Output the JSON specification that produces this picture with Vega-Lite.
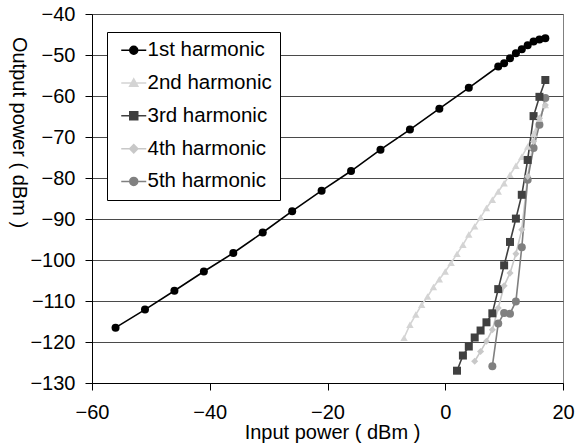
{
  "$schema": "https://vega.github.io/schema/vega-lite/v6.json",
  "width": 471,
  "height": 369,
  "autosize": {"type": "none"},
  "padding": {"left": 92, "top": 14, "right": 13, "bottom": 65},
  "background": "white",
  "config": {
    "font": "Liberation Sans",
    "view": {"stroke": "#808080", "strokeWidth": 1},
    "axis": {"labelFont": "Liberation Sans", "titleFont": "Liberation Sans", "labelColor": "#000", "titleColor": "#000", "titleFontWeight": "normal", "domainColor": "#000", "tickColor": "#000", "labelFlush": false, "labelOverlap": false}
  },
  "data": {"values": [
    {"h": "1st harmonic", "x": -56, "y": -116.5},
    {"h": "1st harmonic", "x": -51, "y": -112.1},
    {"h": "1st harmonic", "x": -46, "y": -107.5},
    {"h": "1st harmonic", "x": -41, "y": -102.8},
    {"h": "1st harmonic", "x": -36, "y": -98.3},
    {"h": "1st harmonic", "x": -31, "y": -93.3},
    {"h": "1st harmonic", "x": -26, "y": -88.1},
    {"h": "1st harmonic", "x": -21, "y": -83.1},
    {"h": "1st harmonic", "x": -16, "y": -78.3},
    {"h": "1st harmonic", "x": -11, "y": -73.1},
    {"h": "1st harmonic", "x": -6, "y": -68.2},
    {"h": "1st harmonic", "x": -1, "y": -63.1},
    {"h": "1st harmonic", "x": 4, "y": -58.0},
    {"h": "1st harmonic", "x": 9, "y": -52.8},
    {"h": "1st harmonic", "x": 10, "y": -52.0},
    {"h": "1st harmonic", "x": 11, "y": -50.8},
    {"h": "1st harmonic", "x": 12, "y": -49.6},
    {"h": "1st harmonic", "x": 13, "y": -48.6},
    {"h": "1st harmonic", "x": 14, "y": -47.6},
    {"h": "1st harmonic", "x": 15, "y": -46.7},
    {"h": "1st harmonic", "x": 16, "y": -46.2},
    {"h": "1st harmonic", "x": 17, "y": -45.9},
    {"h": "2nd harmonic", "x": -7, "y": -119.0},
    {"h": "2nd harmonic", "x": -6, "y": -115.8},
    {"h": "2nd harmonic", "x": -5, "y": -113.3},
    {"h": "2nd harmonic", "x": -4, "y": -110.9},
    {"h": "2nd harmonic", "x": -3, "y": -108.9},
    {"h": "2nd harmonic", "x": -2, "y": -106.6},
    {"h": "2nd harmonic", "x": -1, "y": -104.7},
    {"h": "2nd harmonic", "x": 0, "y": -102.8},
    {"h": "2nd harmonic", "x": 1, "y": -100.7},
    {"h": "2nd harmonic", "x": 2, "y": -98.5},
    {"h": "2nd harmonic", "x": 3, "y": -96.3},
    {"h": "2nd harmonic", "x": 4, "y": -93.8},
    {"h": "2nd harmonic", "x": 5, "y": -91.8},
    {"h": "2nd harmonic", "x": 6, "y": -89.6},
    {"h": "2nd harmonic", "x": 7, "y": -87.3},
    {"h": "2nd harmonic", "x": 8, "y": -85.3},
    {"h": "2nd harmonic", "x": 9, "y": -83.3},
    {"h": "2nd harmonic", "x": 10, "y": -81.3},
    {"h": "2nd harmonic", "x": 11, "y": -79.2},
    {"h": "2nd harmonic", "x": 12, "y": -77.0},
    {"h": "2nd harmonic", "x": 13, "y": -74.8},
    {"h": "2nd harmonic", "x": 14, "y": -72.3},
    {"h": "2nd harmonic", "x": 15, "y": -69.2},
    {"h": "2nd harmonic", "x": 16, "y": -65.5},
    {"h": "2nd harmonic", "x": 17, "y": -62.2},
    {"h": "3rd harmonic", "x": 2, "y": -127.0},
    {"h": "3rd harmonic", "x": 3, "y": -123.3},
    {"h": "3rd harmonic", "x": 4, "y": -121.1},
    {"h": "3rd harmonic", "x": 5, "y": -118.9},
    {"h": "3rd harmonic", "x": 6, "y": -117.2},
    {"h": "3rd harmonic", "x": 7, "y": -115.2},
    {"h": "3rd harmonic", "x": 8, "y": -113.0},
    {"h": "3rd harmonic", "x": 9, "y": -107.1},
    {"h": "3rd harmonic", "x": 10, "y": -101.3},
    {"h": "3rd harmonic", "x": 11, "y": -95.6},
    {"h": "3rd harmonic", "x": 12, "y": -89.9},
    {"h": "3rd harmonic", "x": 13, "y": -84.1},
    {"h": "3rd harmonic", "x": 14, "y": -75.6},
    {"h": "3rd harmonic", "x": 15, "y": -64.9},
    {"h": "3rd harmonic", "x": 16, "y": -60.2},
    {"h": "3rd harmonic", "x": 17, "y": -56.1},
    {"h": "4th harmonic", "x": 5, "y": -124.7},
    {"h": "4th harmonic", "x": 6, "y": -122.3},
    {"h": "4th harmonic", "x": 7, "y": -119.8},
    {"h": "4th harmonic", "x": 8, "y": -117.0},
    {"h": "4th harmonic", "x": 9, "y": -111.7},
    {"h": "4th harmonic", "x": 10, "y": -106.3},
    {"h": "4th harmonic", "x": 11, "y": -103.2},
    {"h": "4th harmonic", "x": 12, "y": -98.5},
    {"h": "4th harmonic", "x": 13, "y": -92.6},
    {"h": "4th harmonic", "x": 14, "y": -79.6},
    {"h": "4th harmonic", "x": 15, "y": -71.1},
    {"h": "4th harmonic", "x": 16, "y": -65.4},
    {"h": "4th harmonic", "x": 17, "y": -62.2},
    {"h": "5th harmonic", "x": 8, "y": -125.9},
    {"h": "5th harmonic", "x": 9, "y": -115.5},
    {"h": "5th harmonic", "x": 10, "y": -112.9},
    {"h": "5th harmonic", "x": 11, "y": -113.1},
    {"h": "5th harmonic", "x": 12, "y": -110.1},
    {"h": "5th harmonic", "x": 13, "y": -96.9},
    {"h": "5th harmonic", "x": 14, "y": -80.4},
    {"h": "5th harmonic", "x": 15, "y": -72.7},
    {"h": "5th harmonic", "x": 16, "y": -67.0},
    {"h": "5th harmonic", "x": 17, "y": -60.5}
  ]},
  "encoding": {
    "x": {
      "field": "x", "type": "quantitative",
      "scale": {"domain": [-60, 20], "nice": false, "zero": false},
      "axis": {"values": [-60, -40, -20, 0, 20], "grid": false, "tickSize": 7, "labelPadding": 12, "labelFontSize": 20, "title": "Input power ( dBm )", "titleFontSize": 20, "titleX": 240, "titleY": 39, "titleBaseline": "top", "titleAlign": "center"}
    },
    "y": {
      "field": "y", "type": "quantitative",
      "scale": {"domain": [-130, -40], "nice": false, "zero": false},
      "axis": {"values": [-130, -120, -110, -100, -90, -80, -70, -60, -50, -40], "grid": true, "gridColor": "#4a4a4a", "tickSize": 7, "labelPadding": 10, "labelFontSize": 20, "title": "Output power ( dBm )", "titleFontSize": 20, "titleAngle": 90, "titleX": -74, "titleY": 118, "titleAlign": "center", "titleBaseline": "middle"}
    },
    "color": {
      "field": "h", "type": "nominal",
      "scale": {"domain": ["1st harmonic", "2nd harmonic", "3rd harmonic", "4th harmonic", "5th harmonic"], "range": ["#000000", "#d4d4d4", "#404040", "#c8c8c8", "#808080"]},
      "legend": {
        "orient": "none", "legendX": 15, "legendY": 18, "title": null,
        "padding": 8, "strokeColor": "#000000", "fillColor": "#ffffff",
        "symbolSize": 196, "labelFontSize": 20.5, "labelFont": "Liberation Sans", "labelColor": "#000000",
        "labelOffset": 12, "rowPadding": 11.8,
        "encode": {"symbols": {
          "enter": {
            "shape": {"signal": "datum.value === '1st harmonic' ? 'M-0.571,0H3M1.785,0A0.571,0.571,0,1,1,0.643,0A0.571,0.571,0,1,1,1.785,0Z' : datum.value === '2nd harmonic' ? 'M-0.571,0H3M1.214,-0.6L1.8,0.45L0.63,0.45Z' : datum.value === '3rd harmonic' ? 'M-0.571,0H3M0.643,-0.571H1.785V0.571H0.643Z' : datum.value === '4th harmonic' ? 'M-0.571,0H3M1.214,-0.6L1.8,0L1.214,0.6L0.63,0Z' : 'M-0.571,0H3M1.785,0A0.571,0.571,0,1,1,0.643,0A0.571,0.571,0,1,1,1.785,0Z'"}
          },
          "update": {
            "shape": {"signal": "datum.value === '1st harmonic' ? 'M-0.571,0H3M1.785,0A0.571,0.571,0,1,1,0.643,0A0.571,0.571,0,1,1,1.785,0Z' : datum.value === '2nd harmonic' ? 'M-0.571,0H3M1.214,-0.6L1.8,0.45L0.63,0.45Z' : datum.value === '3rd harmonic' ? 'M-0.571,0H3M0.643,-0.571H1.785V0.571H0.643Z' : datum.value === '4th harmonic' ? 'M-0.571,0H3M1.214,-0.6L1.8,0L1.214,0.6L0.63,0Z' : 'M-0.571,0H3M1.785,0A0.571,0.571,0,1,1,0.643,0A0.571,0.571,0,1,1,1.785,0Z'"},
            "fill": {"scale": "color", "field": "value"},
            "stroke": {"scale": "color", "field": "value"},
            "strokeWidth": {"value": 1.5},
            "opacity": {"value": 1}
          }
        }}
      }
    }
  },
  "layer": [
    {"mark": {"type": "line", "strokeWidth": 1.6}},
    {"transform": [{"filter": "datum.h === '1st harmonic' || datum.h === '5th harmonic'"}],
     "mark": {"type": "point", "shape": "circle", "filled": true, "size": 64, "opacity": 1}},
    {"transform": [{"filter": "datum.h === '2nd harmonic'"}],
     "mark": {"type": "point", "shape": "triangle-up", "filled": true, "size": 55, "opacity": 1}},
    {"transform": [{"filter": "datum.h === '3rd harmonic'"}],
     "mark": {"type": "point", "shape": "square", "filled": true, "size": 64, "opacity": 1}},
    {"transform": [{"filter": "datum.h === '4th harmonic'"}],
     "mark": {"type": "point", "shape": "diamond", "filled": true, "size": 50, "opacity": 1}}
  ]
}
